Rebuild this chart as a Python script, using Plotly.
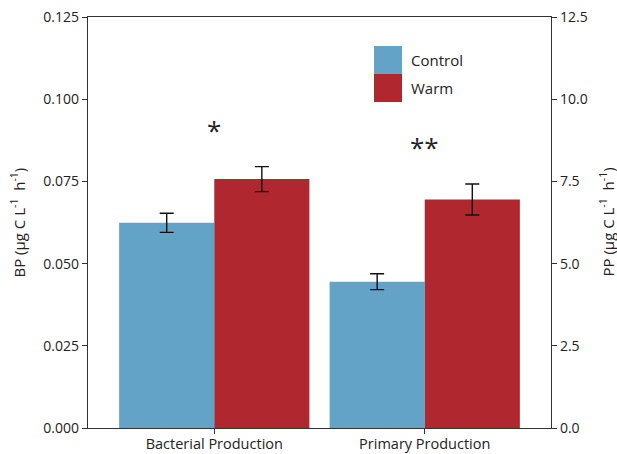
import plotly.graph_objects as go

categories = ["Bacterial Production", "Primary Production"]
bp_control = 0.0624
bp_control_err = 0.0029
bp_warm = 0.0757
bp_warm_err = 0.0038
pp_control = 4.45
pp_control_err = 0.24
pp_warm = 6.95
pp_warm_err = 0.47
series_names = ["Control", "Warm"]
colors = ["#62a3c7", "#b0272f"]
signif = ["*", "**"]
signif_y = [0.0905, 0.0855]

# plot-area geometry in pixels
L, R, T, B = 88, 551, 17, 428
PW, PH = R - L, B - T

W = 0.452
fig = go.Figure()
eb = dict(type="data", color="#111111", thickness=1.4, width=7)

fig.add_trace(go.Bar(x=[categories[0]], y=[bp_control], width=W, offset=-W,
                     marker=dict(color=colors[0], line=dict(width=0)),
                     error_y=dict(array=[bp_control_err], **eb), name=series_names[0],
                     showlegend=False, yaxis="y"))
fig.add_trace(go.Bar(x=[categories[0]], y=[bp_warm], width=W, offset=0,
                     marker=dict(color=colors[1], line=dict(width=0)),
                     error_y=dict(array=[bp_warm_err], **eb), name=series_names[1],
                     showlegend=False, yaxis="y"))
fig.add_trace(go.Bar(x=[categories[1]], y=[pp_control], width=W, offset=-W,
                     marker=dict(color=colors[0], line=dict(width=0)),
                     error_y=dict(array=[pp_control_err], **eb), name=series_names[0],
                     showlegend=False, yaxis="y2"))
fig.add_trace(go.Bar(x=[categories[1]], y=[pp_warm], width=W, offset=0,
                     marker=dict(color=colors[1], line=dict(width=0)),
                     error_y=dict(array=[pp_warm_err], **eb), name=series_names[1],
                     showlegend=False, yaxis="y2"))

font = "Open Sans, Liberation Sans, sans-serif"
axcol = "#333333"
txtcol = "#222222"

# significance markers
for cat, s, yv in zip(categories, signif, signif_y):
    fig.add_annotation(x=cat, y=yv, xref="x", yref="y", text=s, showarrow=False,
                       font=dict(size=26, color=txtcol, family=font))

# legend swatches (drawn manually to mimic large squares)
leg_x0, leg_x1 = 374, 402
leg_tops = [46, 74]
for name, col, top in zip(series_names, colors, leg_tops):
    fig.add_shape(type="rect", xref="paper", yref="paper",
                  x0=(leg_x0 - L) / PW, x1=(leg_x1 - L) / PW,
                  y0=(B - (top + 28)) / PH, y1=(B - top) / PH,
                  fillcolor=col, line=dict(width=0))
    fig.add_annotation(xref="paper", yref="paper", x=(409 - L) / PW,
                       y=(B - (top + 14)) / PH, text=name, showarrow=False,
                       xanchor="left", yanchor="middle",
                       font=dict(size=15, color=txtcol, family=font))

# axis titles as rotated annotations
fig.add_annotation(xref="paper", yref="paper", x=(18 - L) / PW, y=0.5,
                   text="BP (µg C L<sup>-1</sup>  h<sup>-1</sup>)", textangle=-90,
                   showarrow=False, xanchor="center", yanchor="middle",
                   font=dict(size=15, color=txtcol, family=font))
fig.add_annotation(xref="paper", yref="paper", x=(607 - L) / PW, y=0.5,
                   text="PP (µg C L<sup>-1</sup>  h<sup>-1</sup>)", textangle=-90,
                   showarrow=False, xanchor="center", yanchor="middle",
                   font=dict(size=15, color=txtcol, family=font))

fig.update_layout(
    width=617, height=454,
    margin=dict(l=L, r=617 - R, t=T, b=454 - B, autoexpand=False),
    paper_bgcolor="white", plot_bgcolor="white",
    barmode="overlay",
    font=dict(family=font, size=14, color=txtcol),
    xaxis=dict(range=[-0.6, 1.6], showline=True, linecolor=axcol, linewidth=1.3,
               mirror=True, ticks="outside", ticklen=5, tickcolor=axcol,
               showgrid=False, zeroline=False, tickfont=dict(size=14.5),
               ticklabelstandoff=-3, automargin=False),
    yaxis=dict(range=[0, 0.125], tickvals=[0, 0.025, 0.05, 0.075, 0.1, 0.125],
               tickformat=".3f", showline=True, linecolor=axcol, linewidth=1.3,
               ticks="outside", ticklen=5, tickcolor=axcol, showgrid=False,
               zeroline=False, tickfont=dict(size=14), automargin=False),
    yaxis2=dict(range=[0, 12.5], tickvals=[0, 2.5, 5, 7.5, 10, 12.5],
                tickformat=".1f", overlaying="y", side="right", showline=True,
                linecolor=axcol, linewidth=1.3, ticks="outside", ticklen=5,
                tickcolor=axcol, showgrid=False, zeroline=False,
                tickfont=dict(size=14), automargin=False),
)

fig.write_html("out.html", config={"displayModeBar": False},
               post_script="document.body.style.margin='0';document.body.style.overflow='hidden';")
